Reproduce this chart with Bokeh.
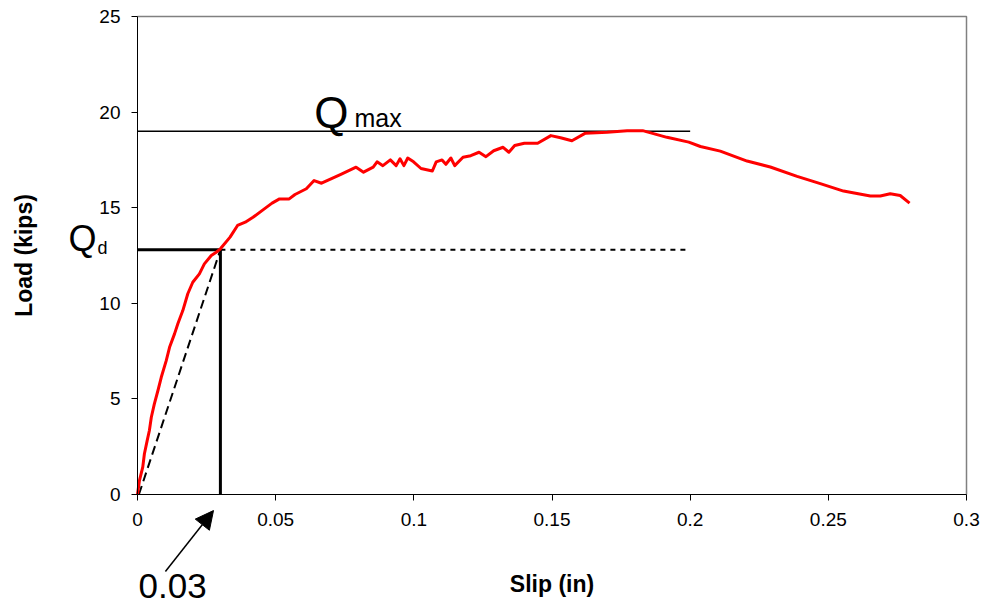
from bokeh.plotting import figure
from bokeh.models import Range1d, FixedTicker, Label, Arrow, NormalHead
from bokeh.embed import file_html
from bokeh.resources import INLINE

# ---- data ----
slip = [0, 0.0007, 0.0019, 0.0025, 0.0035, 0.0043, 0.0050, 0.0061, 0.0074, 0.0086,
        0.0104, 0.0116, 0.0134, 0.0146, 0.0164, 0.0182, 0.0200, 0.0224, 0.0242, 0.0267,
        0.0285, 0.0300, 0.0335, 0.0362,
        0.0390, 0.0418, 0.0459, 0.0487, 0.0514, 0.0549, 0.0570, 0.0611, 0.0639, 0.0666,
        0.0736, 0.0791, 0.0818, 0.0853, 0.0867, 0.0888, 0.0915, 0.0936, 0.0950, 0.0964,
        0.0978, 0.0999, 0.1026, 0.1067, 0.1081, 0.1102, 0.1116, 0.1134, 0.1148, 0.1178,
        0.1206, 0.1236, 0.1261, 0.1289, 0.1323, 0.1344, 0.1365, 0.1400, 0.1448, 0.1496,
        0.1531, 0.1572, 0.1621, 0.1700, 0.1772, 0.1828, 0.1916, 0.1995, 0.2037, 0.2109,
        0.2206, 0.2290, 0.2387, 0.2471, 0.2555, 0.2652, 0.2688, 0.2724, 0.2760, 0.2794]
load = [0, 0.73, 1.43, 2.13, 2.82, 3.35, 4.04, 4.74, 5.44, 6.13,
        7.00, 7.70, 8.40, 8.93, 9.62, 10.50, 11.10, 11.54, 12.06, 12.50,
        12.67, 12.85, 13.46, 14.07,
        14.24, 14.50, 14.94, 15.24, 15.46, 15.46, 15.69, 15.99, 16.42, 16.28,
        16.74, 17.12, 16.86, 17.12, 17.40, 17.20, 17.50, 17.20, 17.56, 17.20,
        17.60, 17.40, 17.05, 16.92, 17.40, 17.50, 17.27, 17.60, 17.20, 17.64,
        17.72, 17.90, 17.67, 17.98, 18.16, 17.90, 18.25, 18.37, 18.37, 18.77,
        18.66, 18.50, 18.90, 18.95, 19.03, 19.03, 18.68, 18.43, 18.20, 17.96,
        17.44, 17.13, 16.64, 16.26, 15.87, 15.61, 15.61, 15.73, 15.64, 15.24]

q_max = 19.0
q_d = 12.8
d_slip = 0.03
ref_end = 0.2

x_ticks = [0, 0.05, 0.1, 0.15, 0.2, 0.25, 0.3]
x_tick_labels = ["0", "0.05", "0.1", "0.15", "0.2", "0.25", "0.3"]
y_ticks = [0, 5, 10, 15, 20, 25]

FONT = "Liberation Sans"

# frame covers the whole canvas; the axes sit at x=0 / y=0 so that the
# annotations outside the plotting area are still drawn
W, H = 987, 605
left_px, right_px, top_px, bottom_px = 137, 966, 16, 494
xs = (right_px - left_px) / (x_ticks[-1] - x_ticks[0])
ys = (bottom_px - top_px) / (y_ticks[-1] - y_ticks[0])
x_range = Range1d(-left_px / xs, (W - left_px) / xs)
y_range = Range1d(-(H - bottom_px) / ys, y_ticks[-1] + top_px / ys)

p = figure(width=W, height=H, output_backend="svg", toolbar_location=None,
           x_range=x_range, y_range=y_range,
           min_border_left=0, min_border_right=0, min_border_top=0, min_border_bottom=0,
           x_axis_label="Slip (in)", y_axis_label="Load (kips)")
p.background_fill_color = "white"
p.border_fill_color = "white"
p.outline_line_color = None
p.xgrid.visible = False
p.ygrid.visible = False

p.xaxis.ticker = FixedTicker(ticks=x_ticks)
p.xaxis.major_label_overrides = {t: l for t, l in zip(x_ticks, x_tick_labels)}
p.yaxis.ticker = FixedTicker(ticks=y_ticks)
p.xaxis.fixed_location = 0
p.yaxis.fixed_location = 0
p.xaxis.bounds = (x_ticks[0], x_ticks[-1])
p.yaxis.bounds = (y_ticks[0], y_ticks[-1])
for ax in (p.xaxis, p.yaxis):
    ax.axis_line_color = "black"
    ax.axis_line_width = 1
    ax.major_tick_line_color = "black"
    ax.major_tick_in = 0
    ax.major_tick_out = 6
    ax.minor_tick_line_color = None
    ax.major_label_text_font = FONT
    ax.major_label_text_font_size = "19px"
    ax.major_label_text_color = "black"
    ax.axis_label_text_font = FONT
    ax.axis_label_text_font_style = "bold"
    ax.axis_label_text_font_size = "23px"
    ax.axis_label_text_color = "black"
p.xaxis.major_label_standoff = 12
p.yaxis.major_label_standoff = 11
p.xaxis.axis_label_standoff = 42
p.yaxis.axis_label_standoff = 59

# plot-area border (top and right)
p.line([x_ticks[0], x_ticks[-1], x_ticks[-1]], [y_ticks[-1], y_ticks[-1], y_ticks[0]],
       line_color="#808080", line_width=1.5)

# reference lines
p.line([0, ref_end], [q_max, q_max], line_color="black", line_width=1.5)
p.line([0, d_slip], [q_d, q_d], line_color="black", line_width=3)
p.line([d_slip, d_slip], [0, q_d], line_color="black", line_width=3)
p.line([d_slip, ref_end], [q_d, q_d], line_color="black", line_width=2, line_dash="5 5")
p.line([0.0005, d_slip], [0, q_d], line_color="black", line_width=2, line_dash="9 5")

# test curve
p.line(slip, load, line_color="#FF0000", line_width=3, line_join="round")

# annotations
p.add_layout(Label(x=0.064, y=20.0, text="Q", text_font=FONT, text_font_size="44px",
                   text_baseline="alphabetic", text_color="black"))
p.add_layout(Label(x=0.0785, y=19.7, text="max", text_font=FONT, text_font_size="25px",
                   text_baseline="alphabetic", text_color="black"))
p.add_layout(Label(x=-0.025, y=13.39, text="Q", text_font=FONT, text_font_size="36px",
                   text_baseline="alphabetic", text_color="black"))
p.add_layout(Label(x=-0.0145, y=12.87, text="d", text_font=FONT, text_font_size="18px",
                   text_baseline="alphabetic", text_color="black"))
p.add_layout(Label(x=0.0004, y=-4.76, text="0.03", text_font=FONT, text_font_size="35px",
                   text_baseline="alphabetic", text_color="black"))
p.add_layout(Arrow(end=NormalHead(size=18, fill_color="black", line_color="black"),
                   x_start=0.0101, y_start=-4.03, x_end=0.0275, y_end=-0.84,
                   line_color="black", line_width=1.5))

open("out.html", "w").write(file_html(p, INLINE))
